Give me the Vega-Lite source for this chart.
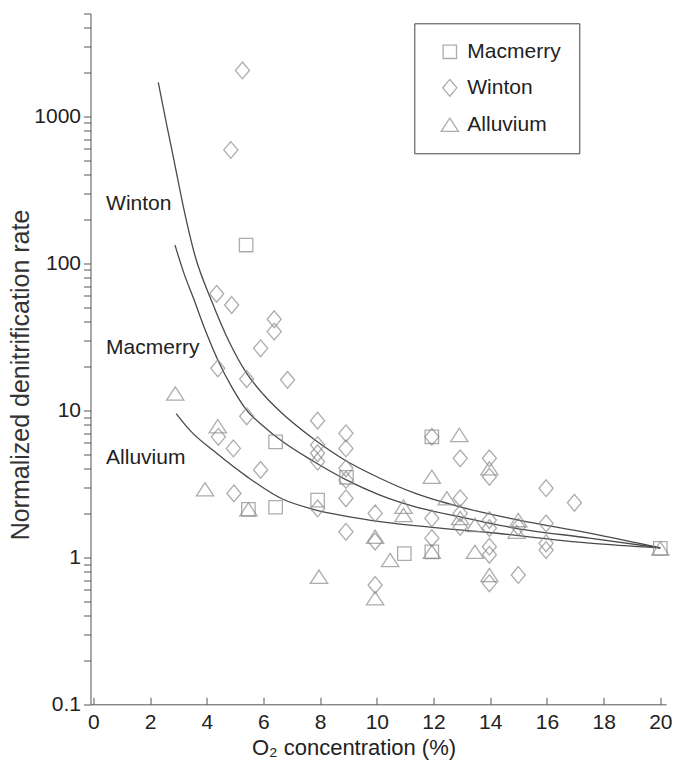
{
  "$schema": "https://vega.github.io/schema/vega-lite/v6.json",
  "width": 575.5,
  "height": 690.8,
  "autosize": {"type": "none"},
  "padding": {"left": 90.5, "top": 13.5, "right": 14, "bottom": 59.7},
  "background": "white",
  "config": {
    "view": {"stroke": null},
    "font": "Liberation Sans",
    "axis": {
      "grid": false,
      "domainColor": "#555555",
      "tickColor": "#555555",
      "labelColor": "#222222",
      "titleColor": "#222222",
      "labelFontSize": 21,
      "titleFontSize": 22,
      "titleFontWeight": "normal",
      "labelFlush": false,
      "labelOverlap": false
    }
  },
  "datasets": {
    "points": [
      {"site": "Macmerry", "o2": 5.39, "rate": 133},
      {"site": "Macmerry", "o2": 6.43, "rate": 6.1},
      {"site": "Macmerry", "o2": 6.43, "rate": 2.19},
      {"site": "Macmerry", "o2": 5.47, "rate": 2.12},
      {"site": "Macmerry", "o2": 7.91, "rate": 2.45},
      {"site": "Macmerry", "o2": 8.93, "rate": 3.5},
      {"site": "Macmerry", "o2": 10.97, "rate": 1.06},
      {"site": "Macmerry", "o2": 11.94, "rate": 6.6},
      {"site": "Macmerry", "o2": 11.94, "rate": 1.09},
      {"site": "Macmerry", "o2": 20, "rate": 1.15},
      {"site": "Winton", "o2": 5.26, "rate": 2050},
      {"site": "Winton", "o2": 4.85, "rate": 590},
      {"site": "Winton", "o2": 4.35, "rate": 62},
      {"site": "Winton", "o2": 4.88, "rate": 52},
      {"site": "Winton", "o2": 6.38, "rate": 41.6},
      {"site": "Winton", "o2": 6.38, "rate": 34.3},
      {"site": "Winton", "o2": 5.9, "rate": 26.4},
      {"site": "Winton", "o2": 6.85, "rate": 16.1},
      {"site": "Winton", "o2": 4.39, "rate": 19.3},
      {"site": "Winton", "o2": 5.41, "rate": 16.3},
      {"site": "Winton", "o2": 7.91, "rate": 8.5},
      {"site": "Winton", "o2": 5.41, "rate": 9.1},
      {"site": "Winton", "o2": 4.41, "rate": 6.6},
      {"site": "Winton", "o2": 4.94, "rate": 5.5},
      {"site": "Winton", "o2": 5.9, "rate": 3.93},
      {"site": "Winton", "o2": 4.96, "rate": 2.72},
      {"site": "Winton", "o2": 7.91, "rate": 5.8},
      {"site": "Winton", "o2": 7.91, "rate": 5.1},
      {"site": "Winton", "o2": 7.91, "rate": 4.47},
      {"site": "Winton", "o2": 7.91, "rate": 2.15},
      {"site": "Winton", "o2": 8.91, "rate": 6.97},
      {"site": "Winton", "o2": 8.91, "rate": 5.5},
      {"site": "Winton", "o2": 8.91, "rate": 4.03},
      {"site": "Winton", "o2": 8.91, "rate": 3.36},
      {"site": "Winton", "o2": 8.91, "rate": 2.52},
      {"site": "Winton", "o2": 8.91, "rate": 1.49},
      {"site": "Winton", "o2": 9.94, "rate": 1.99},
      {"site": "Winton", "o2": 9.94, "rate": 1.28},
      {"site": "Winton", "o2": 9.94, "rate": 0.648},
      {"site": "Winton", "o2": 11.94, "rate": 6.6},
      {"site": "Winton", "o2": 11.94, "rate": 1.84},
      {"site": "Winton", "o2": 11.94, "rate": 1.35},
      {"site": "Winton", "o2": 12.94, "rate": 4.71},
      {"site": "Winton", "o2": 12.94, "rate": 2.52},
      {"site": "Winton", "o2": 12.94, "rate": 1.99},
      {"site": "Winton", "o2": 12.94, "rate": 1.61},
      {"site": "Winton", "o2": 13.97, "rate": 4.71},
      {"site": "Winton", "o2": 13.97, "rate": 3.53},
      {"site": "Winton", "o2": 13.97, "rate": 1.79},
      {"site": "Winton", "o2": 13.97, "rate": 1.58},
      {"site": "Winton", "o2": 13.97, "rate": 1.18},
      {"site": "Winton", "o2": 13.97, "rate": 1.04},
      {"site": "Winton", "o2": 13.97, "rate": 0.665},
      {"site": "Winton", "o2": 14.99, "rate": 1.61},
      {"site": "Winton", "o2": 14.99, "rate": 0.758},
      {"site": "Winton", "o2": 15.97, "rate": 2.95},
      {"site": "Winton", "o2": 15.97, "rate": 1.7},
      {"site": "Winton", "o2": 15.97, "rate": 1.245},
      {"site": "Winton", "o2": 15.97, "rate": 1.12},
      {"site": "Winton", "o2": 16.97, "rate": 2.35},
      {"site": "Alluvium", "o2": 2.89, "rate": 13.0},
      {"site": "Alluvium", "o2": 4.39, "rate": 7.8},
      {"site": "Alluvium", "o2": 3.94, "rate": 2.9},
      {"site": "Alluvium", "o2": 5.47, "rate": 2.12},
      {"site": "Alluvium", "o2": 7.96, "rate": 0.738},
      {"site": "Alluvium", "o2": 9.94, "rate": 1.38},
      {"site": "Alluvium", "o2": 9.94, "rate": 0.526},
      {"site": "Alluvium", "o2": 10.47, "rate": 0.958},
      {"site": "Alluvium", "o2": 10.94, "rate": 2.21},
      {"site": "Alluvium", "o2": 10.94, "rate": 1.94},
      {"site": "Alluvium", "o2": 11.94, "rate": 3.53},
      {"site": "Alluvium", "o2": 11.94, "rate": 1.09},
      {"site": "Alluvium", "o2": 12.91, "rate": 6.8},
      {"site": "Alluvium", "o2": 12.47, "rate": 2.52},
      {"site": "Alluvium", "o2": 12.94, "rate": 1.85},
      {"site": "Alluvium", "o2": 13.46, "rate": 1.66},
      {"site": "Alluvium", "o2": 13.46, "rate": 1.09},
      {"site": "Alluvium", "o2": 13.97, "rate": 4.03},
      {"site": "Alluvium", "o2": 13.97, "rate": 0.758},
      {"site": "Alluvium", "o2": 14.99, "rate": 1.79},
      {"site": "Alluvium", "o2": 14.93, "rate": 1.49},
      {"site": "Alluvium", "o2": 20, "rate": 1.15}
    ],
    "curves": [
      {"series": "Winton", "o2": 2.29, "rate": 1700},
      {"series": "Winton", "o2": 2.6, "rate": 850},
      {"series": "Winton", "o2": 2.82, "rate": 530},
      {"series": "Winton", "o2": 3.17, "rate": 245},
      {"series": "Winton", "o2": 3.59, "rate": 112},
      {"series": "Winton", "o2": 4.18, "rate": 55},
      {"series": "Winton", "o2": 4.8, "rate": 29},
      {"series": "Winton", "o2": 5.41, "rate": 17.8},
      {"series": "Winton", "o2": 6.0, "rate": 12.8},
      {"series": "Winton", "o2": 6.59, "rate": 9.8},
      {"series": "Winton", "o2": 7.76, "rate": 6.4},
      {"series": "Winton", "o2": 8.94, "rate": 4.5},
      {"series": "Winton", "o2": 10.11, "rate": 3.45},
      {"series": "Winton", "o2": 11.29, "rate": 2.75},
      {"series": "Winton", "o2": 12.94, "rate": 2.2},
      {"series": "Winton", "o2": 14.7, "rate": 1.84},
      {"series": "Winton", "o2": 17.5, "rate": 1.46},
      {"series": "Winton", "o2": 20, "rate": 1.16},
      {"series": "Macmerry", "o2": 2.88, "rate": 133},
      {"series": "Macmerry", "o2": 3.2, "rate": 85},
      {"series": "Macmerry", "o2": 3.53, "rate": 58},
      {"series": "Macmerry", "o2": 3.95, "rate": 35},
      {"series": "Macmerry", "o2": 4.39, "rate": 22},
      {"series": "Macmerry", "o2": 4.9, "rate": 14.2},
      {"series": "Macmerry", "o2": 5.41, "rate": 10},
      {"series": "Macmerry", "o2": 6.0, "rate": 7.8},
      {"series": "Macmerry", "o2": 6.59, "rate": 6.3},
      {"series": "Macmerry", "o2": 7.76, "rate": 4.5},
      {"series": "Macmerry", "o2": 8.94, "rate": 3.35},
      {"series": "Macmerry", "o2": 10.11, "rate": 2.65},
      {"series": "Macmerry", "o2": 11.3, "rate": 2.22},
      {"series": "Macmerry", "o2": 12.94, "rate": 1.88},
      {"series": "Macmerry", "o2": 14.7, "rate": 1.6},
      {"series": "Macmerry", "o2": 17.5, "rate": 1.35},
      {"series": "Macmerry", "o2": 20, "rate": 1.16},
      {"series": "Alluvium", "o2": 2.92, "rate": 9.5},
      {"series": "Alluvium", "o2": 3.41, "rate": 7.3},
      {"series": "Alluvium", "o2": 4.35, "rate": 5.1},
      {"series": "Alluvium", "o2": 5.41, "rate": 3.55},
      {"series": "Alluvium", "o2": 6.65, "rate": 2.5},
      {"series": "Alluvium", "o2": 7.76, "rate": 2.12},
      {"series": "Alluvium", "o2": 8.94, "rate": 1.9},
      {"series": "Alluvium", "o2": 10.11, "rate": 1.75},
      {"series": "Alluvium", "o2": 11.94, "rate": 1.6},
      {"series": "Alluvium", "o2": 13.88, "rate": 1.48},
      {"series": "Alluvium", "o2": 17.5, "rate": 1.25},
      {"series": "Alluvium", "o2": 20, "rate": 1.16}
    ],
    "labels": [
      {"label": "Winton", "o2": 0.45, "rate": 253},
      {"label": "Macmerry", "o2": 0.45, "rate": 26.4},
      {"label": "Alluvium", "o2": 0.45, "rate": 4.7}
    ]
  },
  "encoding": {
    "x": {
      "field": "o2",
      "type": "quantitative",
      "scale": {"domain": [-0.1, 20.2], "nice": false, "zero": false},
      "axis": {
        "values": [0, 2, 4, 6, 8, 10, 12, 14, 16, 18, 20],
        "tickSize": -7,
        "labelPadding": 14,
        "title": "O₂ concentration (%)",
        "titleX": 263,
        "titleY": 43,
        "titleBaseline": "middle"
      }
    },
    "y": {
      "field": "rate",
      "type": "quantitative",
      "scale": {"type": "log", "domain": [0.1, 5000], "nice": false},
      "axis": {
        "values": [0.1, 0.2, 0.3, 0.4, 0.5, 0.6, 0.7, 0.8, 0.9, 1, 2, 3, 4, 5, 6, 7, 8, 9, 10, 20, 30, 40, 50, 60, 70, 80, 90, 100, 200, 300, 400, 500, 600, 700, 800, 900, 1000, 2000, 3000, 4000, 5000],
        "format": "~g",
        "labelExpr": "(datum.value == 0.1 || datum.value == 1 || datum.value == 10 || datum.value == 100 || datum.value == 1000) ? datum.label : ''",
        "tickSize": 7,
        "labelPadding": 3,
        "title": "Normalized denitrification rate",
        "titleFontSize": 25,
        "titleColor": "#333333",
        "titleX": -70,
        "titleY": 361,
        "titleBaseline": "middle"
      }
    }
  },
  "layer": [
    {
      "data": {"name": "curves"},
      "mark": {"type": "line", "interpolate": "monotone", "color": "#4a4a4a", "strokeWidth": 1.3},
      "encoding": {"detail": {"field": "series", "type": "nominal"}}
    },
    {
      "data": {"name": "points"},
      "mark": {"type": "point", "filled": false, "strokeWidth": 1.3, "color": "#8a8a8a", "size": 180},
      "encoding": {
        "shape": {
          "field": "site",
          "type": "nominal",
          "scale": {
            "domain": ["Macmerry", "Winton", "Alluvium"],
            "range": ["square", "M0,-1.25L1.05,0L0,1.25L-1.05,0Z", "M0,-0.99L1.29,0.99L-1.29,0.99Z"]
          },
          "legend": {
            "orient": "none",
            "legendX": 323.8,
            "legendY": 9.8,
            "title": null,
            "padding": 18,
            "symbolOffset": 7,
            "rowPadding": 14,
            "labelFontSize": 21,
            "labelColor": "#222222",
            "labelOffset": 7,
            "symbolSize": 180,
            "symbolStrokeWidth": 1.3,
            "symbolStrokeColor": "#8a8a8a",
            "strokeColor": "#444444",
            "fillColor": "white"
          }
        }
      }
    },
    {
      "data": {"name": "labels"},
      "mark": {"type": "text", "align": "left", "baseline": "middle", "fontSize": 21, "color": "#222222"},
      "encoding": {"text": {"field": "label", "type": "nominal"}}
    }
  ]
}
